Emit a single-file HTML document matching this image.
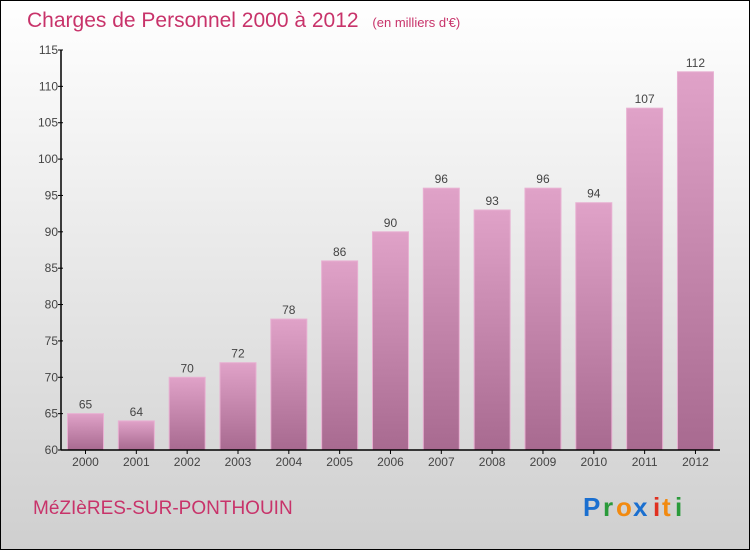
<!DOCTYPE html>
<html><head><meta charset="utf-8"><style>
body{margin:0;width:750px;height:550px;overflow:hidden;font-family:"Liberation Sans",sans-serif}
</style></head><body>
<svg width="750" height="550" xmlns="http://www.w3.org/2000/svg">
<defs>
<linearGradient id="bg" x1="0" y1="0" x2="0" y2="1"><stop offset="0" stop-color="#ffffff"/><stop offset="1" stop-color="#cfcfcf"/></linearGradient>
<linearGradient id="bar" x1="0" y1="0" x2="0" y2="1"><stop offset="0" stop-color="#e0a2c8"/><stop offset="1" stop-color="#a86a90"/></linearGradient>
</defs>
<rect x="0.5" y="0.5" width="749" height="549" fill="url(#bg)" stroke="#000"/>
<text x="27" y="27" font-size="21" fill="#c8336a">Charges de Personnel 2000 à 2012 <tspan font-size="13" dx="8">(en milliers d'€)</tspan></text>
<g id="plot"></g>
<text x="33" y="514" font-size="19" fill="#c8336a">MéZIèRES-SUR-PONTHOUIN</text>
<g font-size="26" font-weight="bold">
<text x="583" y="516" fill="#1a6fd0">P</text><text x="603" y="516" fill="#2a9a3a">r</text><text x="616" y="516" fill="#f28a10">o</text><text x="633" y="516" fill="#1a6fd0">x</text><text x="653" y="516" fill="#e03020">i</text><text x="662" y="516" fill="#f28a10">t</text><text x="675" y="516" fill="#2a9a3a">i</text>
</g>
</svg>
<script>
const categories=["2000","2001","2002","2003","2004","2005","2006","2007","2008","2009","2010","2011","2012"];
const values=[65,64,70,72,78,86,90,96,93,96,94,107,112];
const yTicks=[60,65,70,75,80,85,90,95,100,105,110,115];
const NS="http://www.w3.org/2000/svg";
const g=document.getElementById('plot');
const y0=450,x0=61,xEnd=720,yMin=60,yMax=115,yTop=50;
const y=v=>y0-(v-yMin)/(yMax-yMin)*(y0-yTop);
const step=50.83,first=85.5,bw=36;
const x=i=>first+i*step;
function mk(t,a){const e=document.createElementNS(NS,t);for(const k in a)e.setAttribute(k,a[k]);g.appendChild(e);return e;}
values.forEach((v,i)=>{
 const r=mk('rect',{x:x(i)-bw/2,y:y(v),width:bw,height:y0-y(v),fill:'url(#bar)',stroke:'#e8b0d2','stroke-width':1});
 
 
 const t=mk('text',{x:x(i),y:y(v)-5,'text-anchor':'middle','font-size':12,fill:'#444'});
 t.textContent=v;
 
 
 const c=mk('text',{x:x(i),y:466,'text-anchor':'middle','font-size':12,fill:'#444'});
 c.textContent=categories[i];
 
 
 const tk=mk('line',{x1:x(i),x2:x(i),y1:y0,y2:y0+4,stroke:'#000'});
 
 
});
yTicks.forEach(v=>{
 const t=mk('text',{x:x0-3,y:y(v)+4,'text-anchor':'end','font-size':12,fill:'#444'});
 t.textContent=v;
 
 
 const l=mk('line',{x1:x0-3,x2:x0+2,y1:y(v),y2:y(v),stroke:'#000'});
 
 
});
const ya=mk('line',{x1:x0,x2:x0,y1:yTop,y2:y0,stroke:'#000','stroke-width':1.5});


const xa=mk('line',{x1:x0,x2:xEnd,y1:y0,y2:y0,stroke:'#000','stroke-width':1.5});


</script>
</body></html>
